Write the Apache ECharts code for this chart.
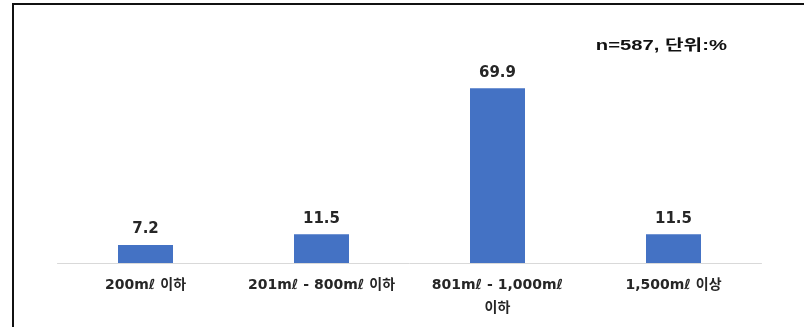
<!DOCTYPE html>
<html>
<head>
<meta charset="utf-8">
<script src="https://cdn.jsdelivr.net/npm/echarts@6/dist/echarts.min.js"></script>
<style>
  html, body { margin: 0; padding: 0; background: #fff; }
  #chart { width: 804px; height: 327px; }
</style>
</head>
<body>
<div id="chart"></div>
<script>
// Daily intake volume categories and response shares (%)
const categories = ['200mℓ 이하', '201mℓ - 800mℓ 이하', '801mℓ - 1,000mℓ\n이하', '1,500mℓ 이상'];
const shares = [7.2, 11.5, 69.9, 11.5];
const noteText = 'n=587, 단위:%';

const labelFont = '"DejaVu Sans", "Noto Sans CJK KR", sans-serif';

const chart = echarts.init(document.getElementById('chart'));
chart.setOption({
  animation: false,
  backgroundColor: '#ffffff',
  grid: { left: 57.5, right: 42.5, top: 63, bottom: 64 },
  xAxis: {
    type: 'category',
    data: categories,
    axisLine: { lineStyle: { color: '#d9d9d9', width: 1 } },
    axisTick: { show: false },
    axisLabel: {
      margin: 11,
      color: '#262626',
      fontFamily: labelFont,
      fontWeight: 'bold',
      fontSize: 14,
      lineHeight: 23,
      interval: 0
    }
  },
  yAxis: {
    type: 'value',
    min: 0,
    max: 80,
    show: false,
    splitLine: { show: false }
  },
  series: [{
    type: 'bar',
    data: shares,
    barWidth: 55,
    itemStyle: { color: '#4472c4' },
    label: {
      show: true,
      position: 'top',
      distance: 8,
      color: '#262626',
      fontFamily: labelFont,
      fontWeight: 'bold',
      fontSize: 15,
      formatter: p => p.value.toFixed(1)
    }
  }],
  graphic: [
    {
      type: 'polyline',
      silent: true,
      shape: { points: [[13, 327], [13, 4], [804, 4]] },
      style: { stroke: '#111', lineWidth: 2, fill: null }
    },
    {
      type: 'text',
      x: 727,
      y: 46,
      scaleX: 1.35,
      silent: true,
      style: {
        text: noteText,
        fill: '#111',
        align: 'right',
        verticalAlign: 'middle',
        font: 'bold 15px "Liberation Sans", "Noto Sans CJK KR", sans-serif'
      }
    }
  ]
});
</script>
</body>
</html>
